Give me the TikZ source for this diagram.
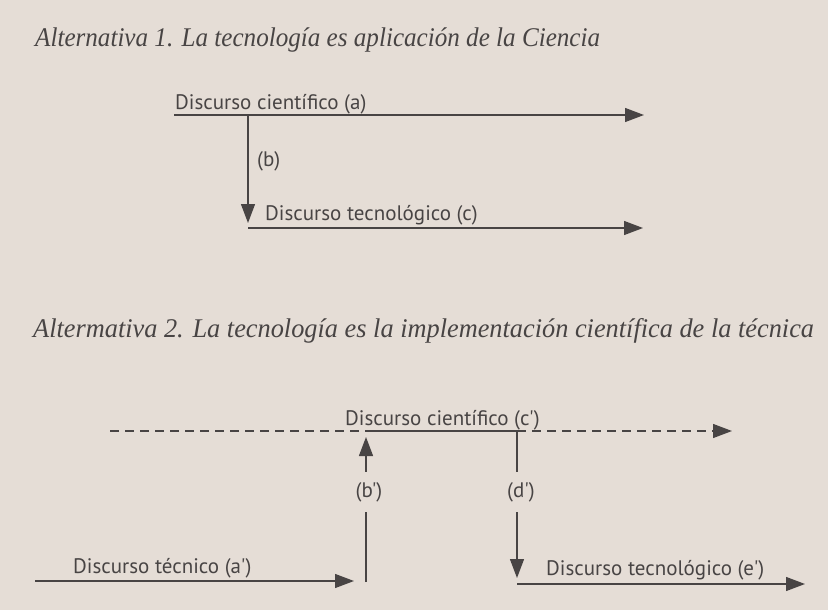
\documentclass[tikz,border=0pt]{standalone}
\usepackage{fontspec}
\setmainfont{Liberation Serif}
\newfontfamily\titleA[FakeStretch=0.93]{Liberation Serif}
\newfontfamily\titleB[FakeStretch=0.975]{Liberation Serif}
\newfontfamily\labelfont{PT Sans}
\usetikzlibrary{arrows.meta}
\definecolor{paper}{RGB}{229,221,214}
\definecolor{ink}{RGB}{72,68,68}
\tikzset{
  titletext/.style={anchor=base west,inner sep=0pt,text=ink},
  lbl/.style={anchor=base west,inner sep=0pt,text=ink,font=\labelfont\fontsize{21}{23}\selectfont},
  vlbl/.style={inner sep=0pt,minimum height=40pt,text=ink,font=\labelfont\fontsize{21}{23}\selectfont},
  flow/.style={draw=ink,line width=1.3pt,-{Triangle[length=19pt,width=14pt]}},
  plain/.style={draw=ink,line width=1.3pt},
  dashflow/.style={flow,dash pattern=on 9pt off 6pt},
  dashplain/.style={plain,dash pattern=on 9pt off 6pt}
}
\begin{document}
\begin{tikzpicture}[x=1pt,y=-1pt]
\useasboundingbox[fill=paper] (0,0) rectangle (828,610);
% titles
\node[titletext,font=\titleA\fontsize{27}{30}\selectfont\itshape] (t1) at (35,47) {Alternativa 1. La tecnología es aplicación de la Ciencia};
\node[titletext,font=\titleB\fontsize{27}{30}\selectfont\itshape] (t2) at (33,337) {Altermativa 2. La tecnología es la implementación científica de la técnica};
% Alternative 1
\coordinate (a0) at (174,115);
\coordinate (a1) at (644,115);
\coordinate (bstart) at (248,115);
\coordinate (bend) at (248,223);
\coordinate (c0) at (248,228);
\coordinate (c1) at (643,228);
\node[lbl] (la) at (175,110) {Discurso científico (a)};
\node[lbl] (lb) at (257,166) {(b)};
\node[lbl] (lc) at (265,220) {Discurso tecnológico (c)};
\draw[flow] (a0) -- (a1);
\draw[flow] (bstart) -- (bend);
\draw[flow] (c0) -- (c1);
% Alternative 2
\coordinate (d0) at (110,431);
\coordinate (s0) at (366,431);
\coordinate (s1) at (517,431);
\coordinate (d1) at (732,431);
\node[lbl] (lcp) at (345,425) {Discurso científico (c')};
\draw[dashplain] (d0) -- (s0);
\draw[plain] (s0) -- (s1);
\draw[dashflow] (s1) -- (d1);
% (b') upward
\coordinate (bp0) at (366,582);
\coordinate (bp1) at (366,437);
\node[vlbl] (lbp) at (369,492) {(b')};
\draw[plain] (bp0) -- (lbp.south -| bp0);
\draw[flow] (lbp.north -| bp0) -- (bp1);
% (d') downward
\coordinate (dp0) at (517,431);
\coordinate (dp1) at (517,578);
\node[vlbl] (ldp) at (521,492) {(d')};
\draw[plain] (dp0) -- (ldp.north -| dp0);
\draw[flow] (ldp.south -| dp0) -- (dp1);
% bottom flows
\coordinate (ta0) at (35,581);
\coordinate (ta1) at (354,581);
\node[lbl] (lta) at (73,573) {Discurso técnico (a')};
\draw[flow] (ta0) -- (ta1);
\coordinate (te0) at (517,584);
\coordinate (te1) at (805,584);
\node[lbl] (lte) at (546,575) {Discurso tecnológico (e')};
\draw[flow] (te0) -- (te1);
\end{tikzpicture}
\end{document}
